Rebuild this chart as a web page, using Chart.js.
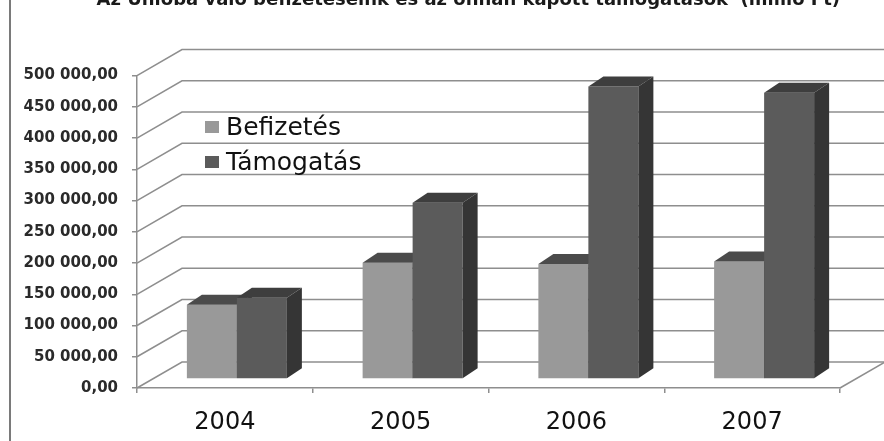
<!DOCTYPE html>
<html>
<head>
<meta charset="utf-8">
<script src="https://cdn.jsdelivr.net/npm/chart.js@4.4.1/dist/chart.umd.min.js"></script>
<style>
  body { margin: 0; background: #fff; }
  #wrap { position: relative; width: 884px; height: 441px; overflow: hidden; background: #fff; }
  #chart { position: absolute; left: 0; top: -12px; }
  #frame { position: absolute; left: 9px; top: 0; width: 2px; height: 441px; background: #7a7a7a; }
  .leg { position: absolute; left: 205px; height: 35px; line-height: 35px; font-family: "DejaVu Sans"; font-size: 25px; color: #111; white-space: nowrap; }
  .leg span.box { position: absolute; left: 0; top: 12px; width: 14px; height: 12px; }
  .leg span.txt { position: absolute; left: 21px; top: 0; }
</style>
</head>
<body>
<div id="wrap">
  <canvas id="chart" width="884" height="453"></canvas>
  <div id="frame"></div>
  <div id="legend"></div>
</div>
<script>
// Data (millió Ft)
const years = ['2004', '2005', '2006', '2007'];
const befizetes = [119000, 186000, 184000, 188000];
const tamogatas = [130000, 282000, 468000, 458000];
const seriesNames = ['Befizetés', 'Támogatás'];

const frontColors = ['#999999', '#5b5b5b'];
const topColors = ['#4b4b4b', '#3e3e3e'];
const sideColors = ['#3a3a3a', '#353535'];
const gridColor = '#8e8e8e';

// 3D offsets (pixels)
const WALL = { x: 45, y: -26 };   // depth of the back wall
const SHIFT = { x: 12, y: -9 };   // where the bar fronts sit
const DEPTH = { x: 15, y: -10 };  // thickness of each bar

// Hungarian number format: 500 000,00
function fmt(v) {
  const parts = Number(v).toFixed(2).split('.');
  return parts[0].replace(/\B(?=(\d{3})+(?!\d))/g, ' ') + ',' + parts[1];
}

const threeD = {
  id: 'threeD',
  beforeDatasetsDraw(chart) {
    const { ctx, chartArea: a, scales } = chart;
    const y = scales.y;
    ctx.save();
    ctx.strokeStyle = gridColor;
    ctx.lineWidth = 1.5;
    y.ticks.forEach(t => {
      const py = y.getPixelForValue(t.value);
      ctx.beginPath();
      ctx.moveTo(a.left, py);
      ctx.lineTo(a.left + WALL.x, py + WALL.y);
      ctx.lineTo(a.right + WALL.x, py + WALL.y);
      ctx.stroke();
    });
    // right edge of the floor
    ctx.beginPath();
    ctx.moveTo(a.right, a.bottom);
    ctx.lineTo(a.right + WALL.x, a.bottom + WALL.y);
    ctx.stroke();
    ctx.restore();
  },
  beforeDatasetDraw() {
    // bars are drawn below in afterDatasetsDraw, in series order
    return false;
  },
  afterDatasetsDraw(chart) {
    const ctx = chart.ctx;
    chart.data.datasets.forEach((ds, i) => {
      const meta = chart.getDatasetMeta(i);
      meta.data.forEach(bar => {
        const { x, y, base, width } = bar.getProps(['x', 'y', 'base', 'width'], true);
        const l = x - width / 2, r = x + width / 2;
        ctx.save();
        ctx.translate(SHIFT.x, SHIFT.y);
        bar.draw(ctx);
        // top face
        ctx.fillStyle = topColors[i];
        ctx.beginPath();
        ctx.moveTo(l, y);
        ctx.lineTo(r, y);
        ctx.lineTo(r + DEPTH.x, y + DEPTH.y);
        ctx.lineTo(l + DEPTH.x, y + DEPTH.y);
        ctx.closePath();
        ctx.fill();
        // side face
        ctx.fillStyle = sideColors[i];
        ctx.beginPath();
        ctx.moveTo(r, y);
        ctx.lineTo(r + DEPTH.x, y + DEPTH.y);
        ctx.lineTo(r + DEPTH.x, base + DEPTH.y);
        ctx.lineTo(r, base);
        ctx.closePath();
        ctx.fill();
        ctx.restore();
      });
    });
  }
};

const chart = new Chart(document.getElementById('chart'), {
  type: 'bar',
  data: {
    labels: years,
    datasets: [
      { label: seriesNames[0], data: befizetes, backgroundColor: frontColors[0] },
      { label: seriesNames[1], data: tamogatas, backgroundColor: frontColors[1] }
    ]
  },
  options: {
    responsive: false,
    animation: false,
    devicePixelRatio: 1,
    layout: { padding: { left: 0, right: 44, top: 0, bottom: 0 } },
    datasets: {
      bar: { barPercentage: 1, categoryPercentage: 0.569, borderWidth: 0 }
    },
    plugins: {
      legend: { display: false },
      tooltip: { enabled: false },
      title: {
        display: true,
        text: 'Az Unióba való befizetéseink és az onnan kapott támogatások  (millió Ft)',
        align: 'end',
        color: '#1a1a1a',
        font: { family: 'DejaVu Sans', size: 18, weight: 'bold' },
        padding: { top: 2, bottom: 64 }
      }
    },
    scales: {
      x: {
        grid: { display: true, offset: true, drawOnChartArea: false, drawTicks: true, tickLength: 5, color: gridColor, lineWidth: 1.5 },
        border: { display: true, color: gridColor, width: 1.5 },
        ticks: { color: '#111', padding: 15, font: { family: 'DejaVu Sans', size: 24 } },
        afterFit(scale) { scale.height = 53; }
      },
      y: {
        min: 0,
        max: 500000,
        grid: { drawOnChartArea: false, drawTicks: true, tickLength: 5, color: gridColor, lineWidth: 1.5 },
        border: { display: true, color: gridColor, width: 1.5 },
        ticks: {
          stepSize: 50000,
          padding: 14,
          color: '#2a2a2a',
          font: { family: 'DejaVu Sans', size: 15, weight: 'bold' },
          callback: v => fmt(v)
        },
        afterFit(scale) { scale.width = 137; }
      }
    }
  },
  plugins: [threeD]
});

// HTML legend built from the chart's datasets
const legend = document.getElementById('legend');
chart.data.datasets.forEach((ds, i) => {
  const item = document.createElement('div');
  item.className = 'leg';
  item.style.top = (109 + i * 35) + 'px';
  item.innerHTML = '<span class="box" style="background:' + ds.backgroundColor + '"></span><span class="txt">' + ds.label + '</span>';
  legend.appendChild(item);
});
</script>
</body>
</html>
